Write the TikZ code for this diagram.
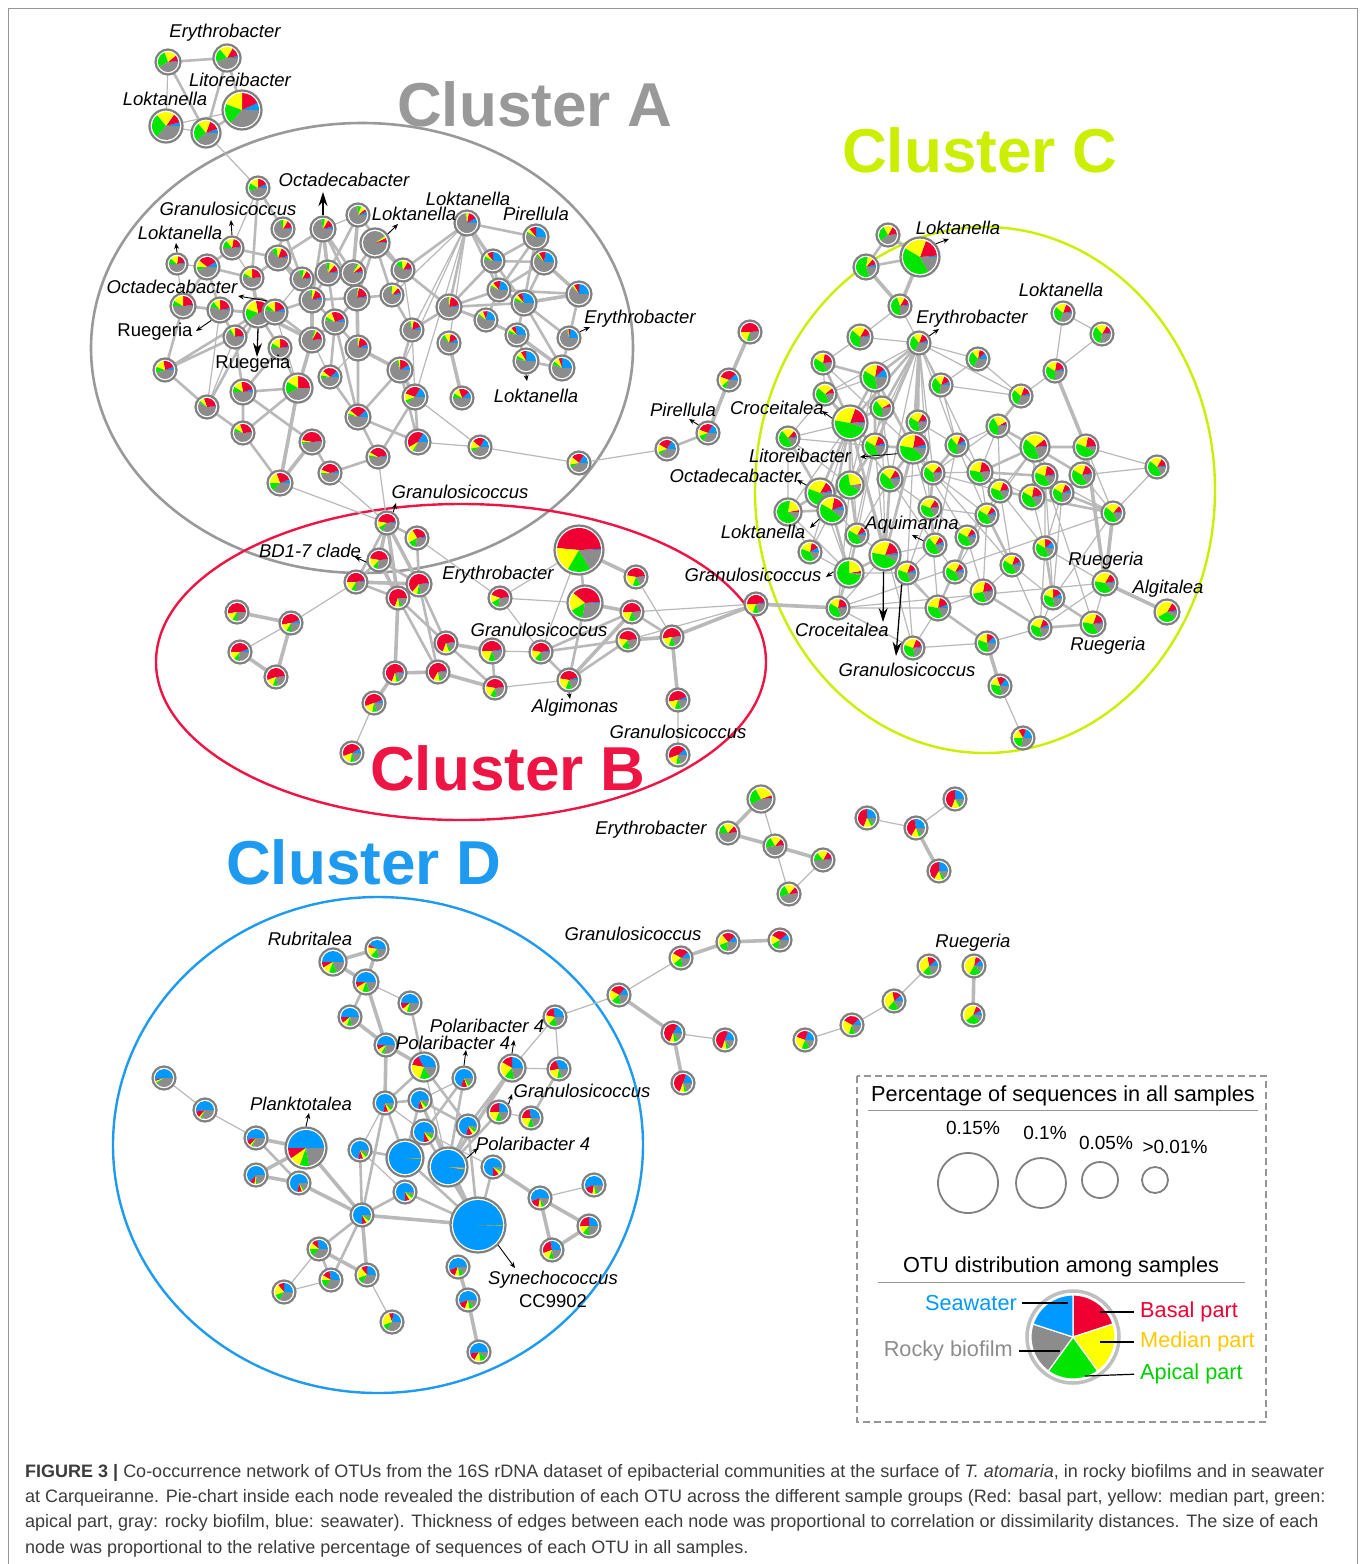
\documentclass[tikz,border=0pt]{standalone}
\usepackage{fontspec}
\setmainfont{Liberation Sans}
\usepackage{tikz}
\usetikzlibrary{arrows.meta,positioning}
\definecolor{cblue}{RGB}{0,153,255}
\definecolor{cred}{RGB}{240,0,50}
\definecolor{cyellow}{RGB}{255,255,0}
\definecolor{cgreen}{RGB}{0,230,0}
\definecolor{cgray}{RGB}{140,140,140}
\definecolor{ringgray}{RGB}{128,128,128}
\definecolor{edgegray}{RGB}{185,185,185}
\definecolor{framegray}{RGB}{150,150,150}
\definecolor{clA}{RGB}{153,153,153}
\definecolor{clB}{RGB}{238,20,68}
\definecolor{clC}{RGB}{204,238,0}
\definecolor{clD}{RGB}{30,155,240}
\definecolor{capgray}{RGB}{60,60,60}
\definecolor{medtext}{RGB}{255,200,0}
\tikzstyle{oturing} = [circle, draw=ringgray, line width=2.2pt, inner sep=0pt]
\tikzstyle{link} = [draw=edgegray, line width=1.2pt]
\tikzstyle{linkm} = [draw=edgegray, line width=2.6pt]
\tikzstyle{linkt} = [draw=edgegray, line width=3.6pt]
\tikzstyle{taxon} = [font=\fontsize{18.5}{20}\selectfont\itshape, inner sep=0pt]
\tikzstyle{taxonup} = [font=\fontsize{18.5}{20}\selectfont, inner sep=0pt]
\tikzstyle{pointer} = [-{Stealth[length=6pt,width=5pt]}, line width=0.9pt]
\tikzstyle{bigpointer} = [-{Stealth[length=14pt,width=9pt]}, line width=1.3pt]
\tikzstyle{clustertitle} = [font=\fontsize{62}{62}\selectfont\bfseries, inner sep=0pt]
\tikzstyle{legtext} = [font=\fontsize{21.7}{24}\selectfont, inner sep=0pt]
\tikzstyle{sizecirc} = [circle, draw=ringgray, line width=1.8pt, inner sep=0pt]
\tikzstyle{captext} = [anchor=west, inner sep=0pt, text=capgray, font=\fontsize{18}{20}\selectfont]
% pie node: name, radius, end of blue, red, yellow, green (gray to 360)
\newcommand{\otu}[6]{%
  \fill[white] (#1) circle[radius=#2+3];
  \fill[cblue] (#1) -- +(0:#2) arc[start angle=0, end angle=-#3, radius=#2] -- cycle;
  \fill[cred] (#1) -- +(-#3:#2) arc[start angle=-#3, end angle=-#4, radius=#2] -- cycle;
  \fill[cyellow] (#1) -- +(-#4:#2) arc[start angle=-#4, end angle=-#5, radius=#2] -- cycle;
  \fill[cgreen] (#1) -- +(-#5:#2) arc[start angle=-#5, end angle=-#6, radius=#2] -- cycle;
  \fill[cgray] (#1) -- +(-#6:#2) arc[start angle=-#6, end angle=-360, radius=#2] -- cycle;
  \node[oturing, minimum size=2*#2+5] (#1) at (#1) {};}

\begin{document}
\begin{tikzpicture}[x=1pt,y=-1pt]
\useasboundingbox (0,0) rectangle (1360,1564);
\draw[framegray, line width=1pt] (8,1564) -- (8,8) -- (1357,8) -- (1357,1564);
% clusters
\draw[clA, line width=2.6pt] (362,348) ellipse [x radius=271, y radius=225];
\draw[clB, line width=2.4pt] (461,662) ellipse [x radius=305, y radius=158];
\draw[clC, line width=2.4pt] (985,490) ellipse [x radius=230, y radius=263];
\draw[clD, line width=2.4pt] (378,1145) ellipse [x radius=265, y radius=248];
% top group
\coordinate (t1) at (168,62);
\coordinate (t2) at (227,58);
\coordinate (t3) at (166,126);
\coordinate (t4) at (206,133);
\coordinate (t5) at (242,110);
% cluster A
\coordinate (a1) at (258,188);
\coordinate (a2) at (283,229);
\coordinate (a3) at (323,229);
\coordinate (a4) at (358,215);
\coordinate (a5) at (375,243);
\coordinate (a6) at (467,223);
\coordinate (a7) at (232,248);
\coordinate (a8) at (177,264);
\coordinate (a9) at (207,267);
\coordinate (a10) at (278,258);
\coordinate (a11) at (252,278);
\coordinate (a12) at (302,279);
\coordinate (a13) at (328,273);
\coordinate (a14) at (353,273);
\coordinate (a15) at (403,270);
\coordinate (a16) at (312,300);
\coordinate (a17) at (357,298);
\coordinate (a18) at (392,295);
\coordinate (a19) at (183,306);
\coordinate (a20) at (220,310);
\coordinate (a21) at (258,313);
\coordinate (a22) at (275,312);
\coordinate (a23) at (235,337);
\coordinate (a24) at (280,348);
\coordinate (a25) at (312,340);
\coordinate (a26) at (335,322);
\coordinate (a27) at (358,348);
\coordinate (a28) at (412,330);
\coordinate (a29) at (449,307);
\coordinate (a30) at (449,343);
\coordinate (a31) at (165,370);
\coordinate (a32) at (243,392);
\coordinate (a33) at (298,388);
\coordinate (a34) at (330,377);
\coordinate (a35) at (400,370);
\coordinate (a36) at (207,407);
\coordinate (a37) at (243,433);
\coordinate (a38) at (312,442);
\coordinate (a39) at (358,417);
\coordinate (a40) at (415,397);
\coordinate (a41) at (418,442);
\coordinate (a42) at (462,398);
\coordinate (a43) at (280,483);
\coordinate (a44) at (330,473);
\coordinate (a45) at (378,457);
\coordinate (a46) at (480,447);
\coordinate (p1) at (536,237);
\coordinate (p2) at (493,261);
\coordinate (p3) at (544,262);
\coordinate (p4) at (499,290);
\coordinate (p5) at (524,303);
\coordinate (p6) at (579,294);
\coordinate (p7) at (486,320);
\coordinate (p8) at (517,335);
\coordinate (p9) at (569,338);
\coordinate (p10) at (526,361);
\coordinate (p11) at (562,368);
\coordinate (m1) at (579,463);
\coordinate (m2) at (667,449);
\coordinate (m3) at (708,433);
\coordinate (m4) at (729,380);
\coordinate (m5) at (750,332);
% cluster B
\coordinate (b1) at (387,523);
\coordinate (b2) at (417,538);
\coordinate (b3) at (379,560);
\coordinate (b4) at (356,582);
\coordinate (b5) at (419,584);
\coordinate (b6) at (398,598);
\coordinate (b7) at (237,612);
\coordinate (b8) at (291,623);
\coordinate (b9) at (240,652);
\coordinate (b10) at (276,677);
\coordinate (b11) at (446,643);
\coordinate (b12) at (492,651);
\coordinate (b13) at (438,672);
\coordinate (b14) at (395,673);
\coordinate (b15) at (374,703);
\coordinate (b16) at (352,753);
\coordinate (b17) at (495,688);
\coordinate (b18) at (500,598);
\coordinate (b19) at (579,550);
\coordinate (b20) at (585,603);
\coordinate (b21) at (636,577);
\coordinate (b22) at (632,612);
\coordinate (b23) at (628,640);
\coordinate (b24) at (672,637);
\coordinate (b25) at (541,652);
\coordinate (b26) at (569,680);
\coordinate (b27) at (756,604);
\coordinate (b28) at (678,700);
\coordinate (b29) at (678,755);
% cluster C
\coordinate (c1) at (888,235);
\coordinate (c2) at (920,257);
\coordinate (c3) at (866,267);
\coordinate (c4) at (900,306);
\coordinate (c5) at (860,337);
\coordinate (c6) at (919,343);
\coordinate (c7) at (823,363);
\coordinate (c8) at (875,377);
\coordinate (c9) at (978,359);
\coordinate (c10) at (941,385);
\coordinate (c11) at (825,394);
\coordinate (c12) at (882,408);
\coordinate (c13) at (850,423);
\coordinate (c14) at (788,438);
\coordinate (c15) at (918,422);
\coordinate (c16) at (1021,396);
\coordinate (c17) at (1055,371);
\coordinate (c18) at (1063,313);
\coordinate (c19) at (1102,334);
\coordinate (c20) at (875,446);
\coordinate (c21) at (913,448);
\coordinate (c22) at (957,445);
\coordinate (c23) at (998,426);
\coordinate (c24) at (1035,447);
\coordinate (c25) at (1086,447);
\coordinate (c26) at (820,493);
\coordinate (c27) at (850,485);
\coordinate (c28) at (890,479);
\coordinate (c29) at (933,473);
\coordinate (c30) at (980,472);
\coordinate (c31) at (1045,476);
\coordinate (c32) at (1082,475);
\coordinate (c33) at (1000,491);
\coordinate (c34) at (1032,497);
\coordinate (c35) at (1062,493);
\coordinate (c36) at (1157,467);
\coordinate (c37) at (788,512);
\coordinate (c38) at (832,510);
\coordinate (c39) at (930,508);
\coordinate (c40) at (987,515);
\coordinate (c41) at (1113,513);
\coordinate (c42) at (857,535);
\coordinate (c43) at (967,537);
\coordinate (c44) at (935,545);
\coordinate (c45) at (885,555);
\coordinate (c46) at (810,552);
\coordinate (c47) at (849,573);
\coordinate (c48) at (907,573);
\coordinate (c49) at (955,572);
\coordinate (c50) at (1045,548);
\coordinate (c51) at (1012,565);
\coordinate (c52) at (983,592);
\coordinate (c53) at (1053,598);
\coordinate (c54) at (1105,583);
\coordinate (c55) at (1167,612);
\coordinate (c56) at (838,608);
\coordinate (c57) at (938,608);
\coordinate (c58) at (1040,628);
\coordinate (c59) at (1093,624);
\coordinate (c60) at (913,648);
\coordinate (c61) at (987,643);
\coordinate (c62) at (1000,686);
\coordinate (c63) at (1023,738);
% outside groups
\coordinate (e1) at (761,799);
\coordinate (e2) at (728,833);
\coordinate (e3) at (775,846);
\coordinate (e4) at (823,860);
\coordinate (e5) at (789,894);
\coordinate (f1) at (867,818);
\coordinate (f2) at (916,828);
\coordinate (f3) at (955,799);
\coordinate (f4) at (939,871);
\coordinate (g1) at (728,942);
\coordinate (g2) at (780,940);
\coordinate (g3) at (681,958);
\coordinate (g4) at (619,995);
\coordinate (g5) at (673,1033);
\coordinate (g6) at (725,1040);
\coordinate (g7) at (683,1083);
\coordinate (h1) at (805,1040);
\coordinate (h2) at (852,1025);
\coordinate (h3) at (894,1001);
\coordinate (h4) at (929,966);
\coordinate (h5) at (974,966);
\coordinate (h6) at (973,1015);
% cluster D
\coordinate (d1) at (333,962);
\coordinate (d2) at (377,949);
\coordinate (d3) at (366,982);
\coordinate (d4) at (410,1003);
\coordinate (d5) at (350,1017);
\coordinate (d6) at (386,1045);
\coordinate (d7) at (424,1067);
\coordinate (d8) at (464,1078);
\coordinate (d9) at (512,1068);
\coordinate (d10) at (555,1017);
\coordinate (d11) at (559,1069);
\coordinate (d13) at (499,1112);
\coordinate (d14) at (531,1118);
\coordinate (d15) at (385,1103);
\coordinate (d16) at (420,1100);
\coordinate (d17) at (468,1126);
\coordinate (d18) at (424,1132);
\coordinate (d19) at (360,1150);
\coordinate (d20) at (405,1158);
\coordinate (d21) at (448,1167);
\coordinate (d22) at (493,1167);
\coordinate (d23) at (164,1078);
\coordinate (d24) at (205,1110);
\coordinate (d25) at (256,1138);
\coordinate (d26) at (306,1148);
\coordinate (d27) at (256,1175);
\coordinate (d28) at (299,1183);
\coordinate (d29) at (405,1192);
\coordinate (d30) at (362,1215);
\coordinate (d31) at (478,1225);
\coordinate (d32) at (540,1198);
\coordinate (d33) at (594,1185);
\coordinate (d34) at (589,1226);
\coordinate (d35) at (552,1250);
\coordinate (d36) at (319,1249);
\coordinate (d37) at (331,1280);
\coordinate (d38) at (367,1275);
\coordinate (d39) at (284,1292);
\coordinate (d40) at (392,1322);
\coordinate (d41) at (458,1267);
\coordinate (d42) at (468,1300);
\coordinate (d43) at (479,1352);
% edges
\draw[link] (t1)--(t3) (t3)--(t4) (t3)--(t5) (t4)--(a1) (a1)--(a7) (a7)--(a11) (a8)--(a9) (a8)--(a19)
  (a3)--(a4) (a6)--(a28) (a6)--(a30) (a6)--(a35) (a6)--(a40) (a28)--(a40) (a40)--(a46) (a41)--(a46)
  (a46)--(m1) (m1)--(m2) (a43)--(b1) (a44)--(b1) (a45)--(b1) (a23)--(a36) (a20)--(a36) (a29)--(p8)
  (a6)--(a18) (a15)--(a28) (a34)--(a27) (a25)--(a34) (a22)--(a33) (a12)--(a22);
\draw[linkm] (t1)--(t2) (t1)--(t4) (t2)--(t5) (t2)--(t4) (t4)--(t5) (m2)--(m3)
  (a1)--(a2) (a1)--(a11) (a2)--(a10) (a2)--(a12) (a3)--(a10) (a3)--(a14) (a3)--(a16) (a3)--(a17)
  (a4)--(a13) (a4)--(a15) (a5)--(a14) (a5)--(a15) (a5)--(a17) (a5)--(a18) (a6)--(a15) (a6)--(a29)
  (a6)--(p1) (a6)--(p4) (a7)--(a9) (a7)--(a10) (a9)--(a11) (a9)--(a19) (a9)--(a20) (a10)--(a11)
  (a10)--(a12) (a10)--(a16) (a12)--(a13) (a13)--(a16) (a13)--(a14) (a13)--(a26) (a15)--(a18)
  (a15)--(a29) (a16)--(a17) (a16)--(a22) (a16)--(a26) (a17)--(a18) (a17)--(a26) (a18)--(a28)
  (a19)--(a20) (a19)--(a21) (a19)--(a31) (a20)--(a21) (a20)--(a23) (a21)--(a22) (a21)--(a23)
  (a21)--(a24) (a21)--(a31) (a21)--(a36) (a22)--(a25) (a23)--(a31) (a23)--(a32) (a24)--(a32)
  (a24)--(a33) (a25)--(a26) (a26)--(a27) (a26)--(a34) (a26)--(a39) (a27)--(a39) (a28)--(a29)
  (a28)--(a35) (a29)--(p4) (a29)--(p2) (a29)--(p7) (a29)--(p5) (a31)--(a36) (a32)--(a37)
  (a32)--(a33) (a32)--(a38) (a33)--(a37) (a34)--(a39) (a35)--(a39) (a35)--(a41) (a36)--(a37)
  (a37)--(a43) (a38)--(a44) (a39)--(a41) (a39)--(a45) (a40)--(a41) (a40)--(a45) (a44)--(a45)
  (p1)--(p2) (p1)--(p4) (p1)--(p5) (p2)--(p3) (p2)--(p4) (p2)--(p5) (p3)--(p4) (p3)--(p5)
  (p4)--(p7) (p4)--(p6) (p5)--(p8) (p5)--(p9) (p5)--(p11) (p6)--(p9) (p6)--(p11) (p7)--(p8)
  (p8)--(p10) (p9)--(p11) (p10)--(p11);
\draw[linkt] (m3)--(m4) (m4)--(m5) (a11)--(a21) (a21)--(a25) (a16)--(a25) (a25)--(a33) (a33)--(a43)
  (a38)--(a43) (a17)--(a27) (a27)--(a35) (a35)--(a40) (a14)--(a17) (a4)--(a14) (a3)--(a13)
  (a12)--(a16) (a30)--(a42) (a6)--(p2) (p1)--(p3) (p3)--(p6) (p5)--(p6) (p4)--(p5) (p8)--(p11);
% cluster B edges
\draw[link] (b2)--(b18) (b4)--(b8) (b8)--(b9) (b15)--(b16) (b17)--(b26) (b18)--(b20) (b18)--(b19)
  (b18)--(b25) (b19)--(b25) (b28)--(b29) (b21)--(b24) (b22)--(b27) (b23)--(b27) (b12)--(b25);
\draw[linkm] (b1)--(b2) (b1)--(b4) (b2)--(b5) (b3)--(b4) (b3)--(b5) (b4)--(b6) (b5)--(b6)
  (b5)--(b11) (b5)--(b13) (b6)--(b11) (b6)--(b13) (b12)--(b17) (b11)--(b17) (b22)--(b24)
  (b26)--(b23) (b25)--(b22) (b25)--(b23) (b20)--(b26) (b19)--(b20) (b26)--(b25);
\draw[linkt] (b1)--(b3) (b1)--(b5) (b1)--(b6) (b3)--(b6) (b4)--(b5) (b6)--(b14) (b7)--(b8)
  (b9)--(b10) (b8)--(b10) (b11)--(b12) (b13)--(b14) (b14)--(b15) (b13)--(b17) (b19)--(b21)
  (b20)--(b22) (b23)--(b24) (b24)--(b27) (b24)--(b28) (b26)--(b22) (b27)--(c56);
% cluster C edges
\draw[link] (c4)--(c5) (c4)--(c6) (c5)--(c6) (c5)--(c7) (c6)--(c9) (c6)--(c10) (c6)--(c11)
  (c6)--(c27) (c6)--(c28) (c6)--(c48) (c6)--(c16) (c9)--(c10) (c9)--(c16) (c10)--(c16) (c10)--(c22)
  (c15)--(c21) (c15)--(c22) (c16)--(c17) (c17)--(c18) (c17)--(c19) (c18)--(c19) (c11)--(c14)
  (c11)--(c20) (c14)--(c20) (c14)--(c37) (c22)--(c23) (c22)--(c30) (c23)--(c30) (c23)--(c33)
  (c24)--(c34) (c24)--(c33) (c25)--(c36) (c25)--(c41) (c32)--(c36) (c36)--(c41) (c28)--(c29)
  (c28)--(c42) (c28)--(c44) (c29)--(c30) (c29)--(c40) (c30)--(c40) (c30)--(c33) (c31)--(c50)
  (c33)--(c43) (c39)--(c40) (c39)--(c43) (c40)--(c43) (c40)--(c49) (c42)--(c45) (c44)--(c45)
  (c44)--(c48) (c44)--(c49) (c45)--(c48) (c45)--(c56) (c45)--(c57) (c46)--(c47) (c37)--(c46)
  (c38)--(c46) (c47)--(c56) (c47)--(c48) (c48)--(c57) (c48)--(c60) (c49)--(c52) (c49)--(c57)
  (c51)--(c52) (c51)--(c53) (c52)--(c57) (c53)--(c58) (c54)--(c58) (c54)--(c59) (c56)--(c57)
  (c56)--(c60) (c56)--(c54) (c56)--(c41) (c57)--(c60) (c58)--(c61) (c60)--(c61) (c62)--(c63)
  (c13)--(c60) (c24)--(c59) (c12)--(c56) (c27)--(c56) (c21)--(c39) (c20)--(c45) (c34)--(c50)
  (c50)--(c58) (c41)--(c53) (c35)--(c50) (c43)--(c52) (c8)--(c11) (c7)--(c11) (c22)--(c44)
  (c15)--(c45) (c31)--(c53) (c29)--(c51) (c39)--(c57) (c26)--(c47) (c21)--(c43)
  (c6)--(c29) (c6)--(c30) (c6)--(c39) (c6)--(c22) (c13)--(c14) (c13)--(c37) (c13)--(c46)
  (c13)--(c42) (c7)--(c21) (c11)--(c28) (c14)--(c27) (c20)--(c42) (c12)--(c45) (c23)--(c29)
  (c24)--(c40) (c30)--(c34) (c31)--(c41) (c33)--(c50) (c39)--(c48) (c43)--(c57) (c40)--(c52)
  (c51)--(c58) (c50)--(c54) (c35)--(c53) (c32)--(c41) (c24)--(c35) (c23)--(c31) (c29)--(c33)
  (c22)--(c40) (c8)--(c27) (c12)--(c28) (c26)--(c42) (c37)--(c47) (c28)--(c39) (c33)--(c51);
\draw[linkm] (c1)--(c3) (c2)--(c3) (c6)--(c8) (c6)--(c13) (c6)--(c12) (c6)--(c15) (c6)--(c20)
  (c6)--(c21) (c7)--(c8) (c7)--(c13) (c8)--(c13) (c8)--(c12) (c8)--(c21) (c11)--(c13) (c12)--(c13)
  (c13)--(c20) (c13)--(c27) (c13)--(c26) (c13)--(c38) (c13)--(c45) (c20)--(c21) (c20)--(c27)
  (c21)--(c28) (c21)--(c45) (c26)--(c37) (c26)--(c38) (c27)--(c38) (c37)--(c38) (c38)--(c47)
  (c45)--(c47) (c24)--(c31) (c24)--(c32) (c23)--(c24) (c30)--(c31) (c31)--(c34) (c32)--(c35)
  (c33)--(c34) (c34)--(c41) (c35)--(c41) (c28)--(c45) (c42)--(c47) (c16)--(c23) (c22)--(c29)
  (c29)--(c39) (c39)--(c44) (c43)--(c49) (c50)--(c53) (c52)--(c58) (c53)--(c59) (c58)--(c59)
  (c57)--(c61) (c40)--(c51) (c24)--(c25) (c14)--(c26) (c27)--(c42) (c8)--(c20) (c21)--(c29)
  (c25)--(c32) (c31)--(c35) (c24)--(c30);
\draw[linkt] (c1)--(c2) (c2)--(c4) (c3)--(c4) (c17)--(c25) (c25)--(c54) (c41)--(c54) (c54)--(c55)
  (c61)--(c62);
% outside edges
\draw[link] (e1)--(e3) (e3)--(e5) (e4)--(e5) (f1)--(f2) (f2)--(f3) (g4)--(g3) (g5)--(g6)
  (h1)--(h2) (h2)--(h3) (h3)--(h4) (d10)--(g4);
\draw[linkt] (e1)--(e2) (e2)--(e3) (e3)--(e4) (f2)--(f4) (g1)--(g2) (g3)--(g1) (g4)--(g5)
  (g5)--(g7) (h5)--(h6);
% cluster D edges
\draw[link] (d3)--(d4) (d23)--(d24) (d24)--(d25) (d36)--(d39) (d37)--(d39) (d38)--(d40)
  (d32)--(d33) (d9)--(d10) (d9)--(d11) (d10)--(d11) (d7)--(d21) (d15)--(d18) (d19)--(d29)
  (d15)--(d19) (d18)--(d22) (d8)--(d16) (d13)--(d14);
\draw[linkm] (d3)--(d5) (d7)--(d15) (d7)--(d17) (d8)--(d20) (d8)--(d21) (d9)--(d17) (d13)--(d21)
  (d14)--(d11) (d15)--(d30) (d15)--(d20) (d16)--(d20) (d16)--(d21) (d17)--(d21) (d17)--(d31)
  (d18)--(d31) (d18)--(d20) (d19)--(d20) (d20)--(d31) (d21)--(d31) (d22)--(d31) (d29)--(d31)
  (d29)--(d30) (d19)--(d30) (d30)--(d36) (d30)--(d37) (d36)--(d37) (d4)--(d7) (d16)--(d31)
  (d15)--(d16) (d16)--(d17) (d25)--(d28);
\draw[linkt] (d1)--(d2) (d1)--(d3) (d2)--(d3) (d3)--(d6) (d5)--(d6) (d6)--(d7) (d6)--(d15)
  (d25)--(d26) (d26)--(d27) (d27)--(d28) (d26)--(d30) (d28)--(d30) (d30)--(d31) (d30)--(d38)
  (d36)--(d38) (d22)--(d32) (d32)--(d34) (d32)--(d35) (d34)--(d35) (d41)--(d42) (d42)--(d43)
  (d9)--(d21);
% pies, top group
\otu{t1}{10}{5}{40}{110}{210}
\otu{t2}{11}{10}{60}{130}{200}
\otu{t3}{14}{15}{55}{130}{230}
\otu{t4}{12}{20}{70}{130}{220}
\otu{t5}{17}{25}{90}{160}{230}
% pies, cluster A
\otu{a1}{9}{25}{90}{150}{200}
\otu{a2}{9}{10}{60}{90}{110}
\otu{a3}{10}{15}{60}{80}{100}
\otu{a4}{9}{20}{40}{70}{95}
\otu{a5}{12}{5}{25}{35}{40}
\otu{a6}{10}{30}{80}{95}{100}
\otu{a7}{9}{10}{80}{130}{180}
\otu{a8}{8}{10}{80}{140}{180}
\otu{a9}{10}{30}{140}{180}{200}
\otu{a10}{10}{10}{70}{100}{130}
\otu{a11}{9}{5}{90}{150}{170}
\otu{a12}{9}{10}{60}{80}{110}
\otu{a13}{10}{10}{50}{80}{100}
\otu{a14}{10}{10}{40}{60}{70}
\otu{a15}{9}{10}{60}{100}{140}
\otu{a16}{10}{15}{70}{90}{100}
\otu{a17}{10}{10}{80}{85}{90}
\otu{a18}{9}{15}{50}{90}{100}
\otu{a19}{10}{5}{90}{150}{180}
\otu{a20}{10}{10}{90}{130}{160}
\otu{a21}{12}{10}{100}{160}{220}
\otu{a22}{10}{20}{90}{140}{170}
\otu{a23}{9}{10}{90}{120}{140}
\otu{a24}{9}{10}{90}{150}{180}
\otu{a25}{10}{5}{60}{70}{80}
\otu{a26}{10}{20}{110}{150}{170}
\otu{a27}{10}{20}{80}{90}{95}
\otu{a28}{9}{20}{80}{100}{110}
\otu{a29}{10}{10}{80}{90}{95}
\otu{a30}{9}{25}{80}{120}{140}
\otu{a31}{9}{20}{100}{160}{200}
\otu{a32}{10}{15}{100}{150}{180}
\otu{a33}{12}{0}{90}{150}{210}
\otu{a34}{9}{40}{140}{170}{190}
\otu{a35}{10}{30}{90}{100}{110}
\otu{a36}{9}{5}{110}{140}{150}
\otu{a37}{9}{5}{110}{150}{170}
\otu{a38}{10}{5}{170}{180}{190}
\otu{a39}{10}{40}{140}{160}{170}
\otu{a40}{10}{60}{160}{200}{220}
\otu{a41}{10}{60}{210}{240}{250}
\otu{a42}{9}{40}{110}{150}{180}
\otu{a43}{10}{20}{110}{180}{230}
\otu{a44}{9}{15}{160}{180}{190}
\otu{a45}{9}{10}{150}{170}{180}
\otu{a46}{9}{60}{140}{190}{210}
\otu{p1}{10}{90}{130}{150}{160}
\otu{p2}{9}{90}{130}{150}{170}
\otu{p3}{10}{80}{120}{130}{140}
\otu{p4}{9}{80}{130}{150}{160}
\otu{p5}{10}{100}{130}{150}{170}
\otu{p6}{10}{90}{120}{130}{135}
\otu{p7}{9}{80}{110}{140}{150}
\otu{p8}{9}{100}{130}{150}{170}
\otu{p9}{9}{80}{95}{100}{105}
\otu{p10}{10}{90}{120}{150}{170}
\otu{p11}{10}{90}{110}{140}{160}
\otu{m1}{9}{60}{140}{190}{210}
\otu{m2}{9}{60}{150}{200}{220}
\otu{m3}{9}{60}{160}{200}{240}
\otu{m4}{9}{40}{160}{220}{250}
\otu{m5}{9}{5}{180}{250}{270}
% pies, cluster B
\otu{b1}{9}{10}{170}{210}{240}
\otu{b2}{9}{10}{120}{210}{260}
\otu{b3}{9}{5}{170}{230}{260}
\otu{b4}{9}{10}{180}{240}{270}
\otu{b5}{10}{5}{230}{260}{280}
\otu{b6}{9}{0}{250}{280}{300}
\otu{b7}{9}{0}{190}{240}{270}
\otu{b8}{9}{20}{190}{240}{270}
\otu{b9}{9}{20}{180}{230}{260}
\otu{b10}{9}{5}{200}{250}{280}
\otu{b11}{9}{5}{250}{290}{310}
\otu{b12}{10}{10}{180}{250}{290}
\otu{b13}{9}{10}{240}{280}{300}
\otu{b14}{9}{10}{250}{280}{300}
\otu{b15}{9}{20}{200}{260}{290}
\otu{b16}{9}{30}{200}{260}{290}
\otu{b17}{9}{5}{170}{240}{280}
\otu{b18}{9}{5}{160}{210}{260}
\otu{b19}{22}{3}{175}{240}{300}
\otu{b20}{15}{5}{140}{210}{260}
\otu{b21}{9}{5}{170}{250}{300}
\otu{b22}{9}{5}{180}{250}{300}
\otu{b23}{9}{5}{170}{230}{280}
\otu{b24}{9}{5}{190}{250}{290}
\otu{b25}{9}{10}{170}{230}{270}
\otu{b26}{9}{15}{170}{250}{290}
\otu{b27}{9}{10}{180}{250}{290}
\otu{b28}{9}{20}{190}{250}{290}
\otu{b29}{9}{40}{200}{260}{290}
% pies, cluster C
\otu{c1}{9}{5}{60}{120}{220}
\otu{c2}{17}{5}{70}{150}{300}
\otu{c3}{10}{15}{50}{80}{290}
\otu{c4}{9}{10}{60}{110}{270}
\otu{c5}{10}{10}{60}{140}{270}
\otu{c6}{9}{15}{70}{130}{240}
\otu{c7}{9}{5}{80}{150}{300}
\otu{c8}{12}{40}{80}{150}{280}
\otu{c9}{9}{40}{80}{130}{240}
\otu{c10}{9}{20}{70}{130}{260}
\otu{c11}{9}{5}{40}{140}{300}
\otu{c12}{9}{5}{30}{130}{270}
\otu{c13}{15}{5}{70}{170}{340}
\otu{c14}{9}{10}{50}{130}{300}
\otu{c15}{9}{10}{60}{150}{280}
\otu{c16}{9}{15}{70}{140}{250}
\otu{c17}{9}{15}{80}{150}{270}
\otu{c18}{9}{10}{70}{140}{250}
\otu{c19}{9}{10}{60}{130}{260}
\otu{c20}{10}{15}{70}{150}{290}
\otu{c21}{13}{15}{80}{170}{320}
\otu{c22}{9}{30}{70}{130}{270}
\otu{c23}{9}{10}{30}{120}{270}
\otu{c24}{12}{5}{40}{140}{290}
\otu{c25}{10}{5}{80}{160}{330}
\otu{c26}{12}{10}{60}{160}{320}
\otu{c27}{11}{0}{5}{100}{330}
\otu{c28}{10}{15}{60}{140}{300}
\otu{c29}{9}{10}{50}{140}{280}
\otu{c30}{10}{5}{80}{170}{300}
\otu{c31}{10}{10}{80}{160}{300}
\otu{c32}{10}{10}{70}{150}{300}
\otu{c33}{9}{10}{70}{160}{300}
\otu{c34}{10}{10}{80}{150}{300}
\otu{c35}{9}{20}{70}{150}{270}
\otu{c36}{9}{10}{60}{140}{300}
\otu{c37}{11}{0}{10}{80}{320}
\otu{c38}{12}{20}{80}{150}{320}
\otu{c39}{9}{10}{60}{160}{300}
\otu{c40}{9}{20}{60}{150}{300}
\otu{c41}{9}{10}{50}{140}{300}
\otu{c42}{9}{20}{60}{150}{300}
\otu{c43}{9}{20}{60}{150}{300}
\otu{c44}{9}{20}{60}{130}{300}
\otu{c45}{13}{10}{70}{170}{330}
\otu{c46}{9}{30}{80}{160}{300}
\otu{c47}{12}{0}{10}{90}{350}
\otu{c48}{9}{20}{70}{160}{290}
\otu{c49}{9}{20}{60}{150}{300}
\otu{c50}{9}{40}{90}{150}{300}
\otu{c51}{9}{20}{70}{150}{300}
\otu{c52}{10}{10}{80}{190}{290}
\otu{c53}{9}{30}{90}{160}{280}
\otu{c54}{10}{10}{60}{170}{310}
\otu{c55}{10}{10}{60}{210}{330}
\otu{c56}{9}{10}{80}{150}{290}
\otu{c57}{10}{20}{80}{170}{300}
\otu{c58}{9}{20}{70}{160}{280}
\otu{c59}{10}{10}{70}{170}{300}
\otu{c60}{9}{10}{70}{160}{280}
\otu{c61}{9}{40}{90}{160}{280}
\otu{c62}{9}{50}{110}{170}{280}
\otu{c63}{9}{70}{120}{180}{260}
% pies, outside groups
\otu{e1}{11}{5}{20}{120}{210}
\otu{e2}{9}{5}{50}{120}{180}
\otu{e3}{9}{5}{50}{120}{190}
\otu{e4}{9}{10}{60}{130}{180}
\otu{e5}{9}{5}{50}{120}{200}
\otu{f1}{9}{90}{250}{300}{320}
\otu{f2}{9}{100}{240}{290}{310}
\otu{f3}{9}{90}{250}{300}{320}
\otu{f4}{9}{90}{240}{290}{310}
\otu{g1}{9}{40}{130}{200}{260}
\otu{g2}{9}{40}{150}{210}{260}
\otu{g3}{9}{40}{150}{220}{280}
\otu{g4}{9}{50}{150}{220}{280}
\otu{g5}{9}{60}{250}{280}{310}
\otu{g6}{9}{70}{250}{280}{300}
\otu{g7}{9}{70}{250}{280}{300}
\otu{h1}{9}{70}{160}{250}{300}
\otu{h2}{9}{40}{150}{250}{290}
\otu{h3}{9}{40}{100}{230}{300}
\otu{h4}{9}{40}{100}{230}{290}
\otu{h5}{9}{40}{80}{240}{320}
\otu{h6}{9}{30}{70}{220}{320}
% pies, cluster D
\otu{d1}{11}{180}{210}{250}{290}
\otu{d2}{9}{150}{170}{230}{280}
\otu{d3}{10}{180}{210}{250}{290}
\otu{d4}{9}{180}{220}{250}{270}
\otu{d5}{9}{180}{220}{250}{280}
\otu{d6}{9}{180}{210}{240}{260}
\otu{d7}{12}{120}{170}{250}{300}
\otu{d8}{9}{250}{290}{300}{320}
\otu{d9}{11}{90}{150}{230}{280}
\otu{d10}{9}{100}{170}{230}{280}
\otu{d11}{9}{110}{190}{260}{290}
\otu{d13}{9}{90}{180}{250}{290}
\otu{d14}{9}{100}{180}{250}{290}
\otu{d15}{9}{260}{290}{310}{330}
\otu{d16}{9}{260}{290}{310}{330}
\otu{d17}{9}{260}{300}{320}{340}
\otu{d18}{10}{270}{300}{320}{340}
\otu{d19}{9}{260}{290}{310}{330}
\otu{d20}{16}{357}{358}{359}{360}
\otu{d21}{17}{350}{352}{354}{356}
\otu{d22}{9}{270}{310}{330}{340}
\otu{d23}{9}{190}{200}{210}{220}
\otu{d24}{9}{190}{230}{240}{250}
\otu{d25}{9}{190}{230}{240}{250}
\otu{d26}{18}{180}{215}{250}{280}
\otu{d27}{9}{230}{260}{270}{280}
\otu{d28}{9}{260}{290}{300}{310}
\otu{d29}{9}{270}{300}{320}{340}
\otu{d30}{9}{270}{300}{320}{340}
\otu{d31}{25}{358}{358.5}{359}{359.5}
\otu{d32}{9}{200}{260}{280}{300}
\otu{d33}{9}{200}{260}{280}{300}
\otu{d34}{9}{90}{180}{230}{270}
\otu{d35}{9}{100}{200}{250}{280}
\otu{d36}{9}{100}{140}{180}{230}
\otu{d37}{9}{100}{150}{180}{230}
\otu{d38}{9}{90}{130}{200}{240}
\otu{d39}{9}{90}{130}{200}{240}
\otu{d40}{9}{80}{110}{200}{240}
\otu{d41}{9}{200}{250}{280}{310}
\otu{d42}{9}{200}{250}{280}{310}
\otu{d43}{9}{190}{240}{280}{320}
% taxon labels
\node[taxon] (L01) at (225,33) {Erythrobacter};
\node[taxon] (L02) at (240,80) {Litoreibacter};
\node[taxon] (L03) at (165,99) {Loktanella};
\node[taxon] (L04) at (344,180) {Octadecabacter};
\node[taxon] (L05) at (228,209) {Granulosicoccus};
\node[taxon] (L06) at (180,233) {Loktanella};
\node[taxon] (L07) at (414,214) {Loktanella};
\node[taxon] (L08) at (468,199) {Loktanella};
\node[taxon] (L09) at (536,214) {Pirellula};
\node[taxon] (L10) at (172,287) {Octadecabacter};
\node[taxonup] (L11) at (155,332) {Ruegeria};
\node[taxonup] (L12) at (253,364) {Ruegeria};
\node[taxon] (L13) at (640,319) {Erythrobacter};
\node[taxon] (L14) at (536,396) {Loktanella};
\node[taxon] (L15) at (683,410) {Pirellula};
\node[taxon] (L16) at (777,408) {Croceitalea};
\node[taxon] (L17) at (460,492) {Granulosicoccus};
\node[taxon] (L18) at (310,551) {BD1-7 clade};
\node[taxon] (L19) at (498,575) {Erythrobacter};
\node[taxon] (L20) at (539,630) {Granulosicoccus};
\node[taxon] (L21) at (575,708) {Algimonas};
\node[taxon] (L22) at (678,732) {Granulosicoccus};
\node[taxon] (L23) at (753,575) {Granulosicoccus};
\node[taxon] (L24) at (958,228) {Loktanella};
\node[taxon] (L25) at (1061,290) {Loktanella};
\node[taxon] (L26) at (972,319) {Erythrobacter};
\node[taxon] (L27) at (800,456) {Litoreibacter};
\node[taxon] (L28) at (735,476) {Octadecabacter};
\node[taxon] (L29) at (763,532) {Loktanella};
\node[taxon] (L30) at (912,525) {Aquimarina};
\node[taxon] (L31) at (842,630) {Croceitalea};
\node[taxon] (L32) at (907,670) {Granulosicoccus};
\node[taxon] (L33) at (1106,561) {Ruegeria};
\node[taxon] (L34) at (1168,589) {Algitalea};
\node[taxon] (L35) at (1108,646) {Ruegeria};
\node[taxon] (L36) at (651,830) {Erythrobacter};
\node[taxon] (L37) at (633,934) {Granulosicoccus};
\node[taxon] (L38) at (973,943) {Ruegeria};
\node[taxon] (L39) at (310,939) {Rubritalea};
\node[taxon] (L40) at (487,1026) {Polaribacter 4};
\node[taxon] (L41) at (453,1043) {Polaribacter 4};
\node[taxon] (L42) at (582,1091) {Granulosicoccus};
\node[taxon] (L43) at (301,1104) {Planktotalea};
\node[taxon] (L44) at (533,1144) {Polaribacter 4};
\node[taxon] (L45) at (553,1280) {Synechococcus};
\node[taxonup, below=6pt of L45] (L46) {CC9902};
% arrow tips
\coordinate (x04) at (323,192);
\coordinate (x05) at (231,220);
\coordinate (x06) at (176,243);
\coordinate (x07) at (398,224);
\coordinate (x10) at (238,296);
\coordinate (x11) at (196,331);
\coordinate (x12) at (257,357);
\coordinate (x13) at (590,327);
\coordinate (x14) at (527,381);
\coordinate (x15) at (689,419);
\coordinate (x17) at (396,503);
\coordinate (x18) at (355,557);
\coordinate (x21) at (570,699);
\coordinate (x24) at (949,239);
\coordinate (x26) at (939,329);
\coordinate (x16) at (822,411);
\coordinate (x27) at (860,457);
\coordinate (x28) at (797,480);
\coordinate (x29) at (810,528);
\coordinate (x30) at (912,535);
\coordinate (x23) at (826,577);
\coordinate (x31) at (883,622);
\coordinate (x32) at (896,656);
\coordinate (x40) at (514,1040);
\coordinate (x41) at (466,1050);
\coordinate (x42) at (512,1094);
\coordinate (x43) at (309,1113);
\coordinate (x44) at (478,1148);
\coordinate (x45) at (515,1268);
\draw[bigpointer] (a3.north) -- (x04);
\draw[pointer] (a7.north) -- (x05);
\draw[pointer] (a8.north) -- (x06);
\draw[pointer] (a5.35) -- (x07);
\draw[pointer] (a22.125) -- (x10);
\draw[pointer] (a20.-130) -- (x11);
\draw[bigpointer] (a21.south) -- (x12);
\draw[pointer] (p9.30) -- (x13);
\draw[pointer] (p10.south) -- (x14);
\draw[pointer] (m3.140) -- (x15);
\draw[pointer] (b1.60) -- (x17);
\draw[pointer] (b3.190) -- (x18);
\draw[pointer] (b26.south) -- (x21);
\draw[pointer] (c2.40) -- (x24);
\draw[pointer] (c6.35) -- (x26);
\draw[pointer] (c13.165) -- (x16);
\draw[pointer] (c21.200) -- (x27);
\draw[pointer] (c26.150) -- (x28);
\draw[pointer] (c38.-145) -- (x29);
\draw[pointer] (c44.160) -- (x30);
\draw[pointer] (c47.175) -- (x23);
\draw[bigpointer] (c45.-95) -- (x31);
\draw[bigpointer] (c48.-115) -- (x32);
\draw[pointer] (d9.north) -- (x40);
\draw[pointer] (d8.north) -- (x41);
\draw[pointer] (d13.40) -- (x42);
\draw[pointer] (d26.north) -- (x43);
\draw[pointer] (d21.25) -- (x44);
\draw[pointer] (d31.-45) -- (x45);
% cluster titles
\node[clustertitle, text=clA] (TA) at (535,104) {Cluster A};
\node[clustertitle, text=clB] (TB) at (508,768) {Cluster B};
\node[clustertitle, text=clC] (TC) at (980,150) {Cluster C};
\node[clustertitle, text=clD] (TD) at (364,862) {Cluster D};
% legend
\draw[framegray, line width=1.2pt, dash pattern=on 7pt off 4pt] (857,1076) rectangle (1266,1422);
\node[legtext] (G1) at (1063,1096) {Percentage of sequences in all samples};
\draw[framegray, line width=1pt] (868,1110) -- (1258,1110);
\node[sizecirc, minimum size=60] (S1) at (968,1183) {};
\node[sizecirc, minimum size=50] (S2) at (1041,1183) {};
\node[sizecirc, minimum size=36] (S3) at (1100,1180) {};
\node[sizecirc, minimum size=26] (S4) at (1155,1180) {};
\node[legtext, font=\fontsize{19}{20}\selectfont] (P1) at (973,1128) {0.15\%};
\node[legtext, font=\fontsize{19}{20}\selectfont] (P2) at (1045,1133) {0.1\%};
\node[legtext, font=\fontsize{19}{20}\selectfont] (P3) at (1106,1143) {0.05\%};
\node[legtext, font=\fontsize{19}{20}\selectfont] (P4) at (1175,1147) {>0.01\%};
\node[legtext] (G2) at (1061,1267) {OTU distribution among samples};
\draw[framegray, line width=1pt] (878,1282) -- (1245,1282);
\coordinate (LP) at (1073,1337);
\filldraw[fill=cred, draw=white, line width=1.2pt] (LP) -- +(-90:42) arc[start angle=-90, end angle=-18, radius=42] -- cycle;
\filldraw[fill=cyellow, draw=white, line width=1.2pt] (LP) -- +(-18:42) arc[start angle=-18, end angle=54, radius=42] -- cycle;
\filldraw[fill=cgreen, draw=white, line width=1.2pt] (LP) -- +(54:42) arc[start angle=54, end angle=126, radius=42] -- cycle;
\filldraw[fill=cgray, draw=white, line width=1.2pt] (LP) -- +(126:42) arc[start angle=126, end angle=198, radius=42] -- cycle;
\filldraw[fill=cblue, draw=white, line width=1.2pt] (LP) -- +(198:42) arc[start angle=198, end angle=270, radius=42] -- cycle;
\node[circle, draw=black!25, line width=3.5pt, minimum size=92, inner sep=0pt] (LP) at (LP) {};
\node[legtext, text=cblue, anchor=east] (K1) at (1017,1303) {Seawater};
\node[legtext, text=cgray, anchor=east] (K2) at (1013,1351) {Rocky biofilm};
\node[legtext, text=cred, anchor=west] (K3) at (1140,1312) {Basal part};
\node[legtext, text=medtext, anchor=west] (K4) at (1140,1342) {Median part};
\node[legtext, text=cgreen!90!black, anchor=west] (K5) at (1140,1374) {Apical part};
\coordinate (k1) at (1068,1303);
\coordinate (k2) at (1060,1351);
\coordinate (k3) at (1100,1312);
\coordinate (k4) at (1100,1342);
\coordinate (k5) at (1085,1376);
\draw[line width=1.2pt, shorten <=5pt] (K1.east) -- (k1);
\draw[line width=1.2pt, shorten <=6pt] (K2.east) -- (k2);
\draw[line width=1.2pt, shorten <=6pt] (K3.west) -- (k3);
\draw[line width=1.2pt, shorten <=6pt] (K4.west) -- (k4);
\draw[line width=1.2pt, shorten <=6pt] (K5.west) -- (k5);
% caption
\node[captext] (CP1) at (25,1473) {\textbf{FIGURE 3 |} Co-occurrence network of OTUs from the 16S rDNA dataset of epibacterial communities at the surface of \textit{T. atomaria}, in rocky biofilms and in seawater};
\node[captext] (CP2) at (25,1498) {at Carqueiranne. Pie-chart inside each node revealed the distribution of each OTU across the different sample groups (Red: basal part, yellow: median part, green:};
\node[captext] (CP3) at (25,1523) {apical part, gray: rocky biofilm, blue: seawater). Thickness of edges between each node was proportional to correlation or dissimilarity distances. The size of each};
\node[captext] (CP4) at (25,1549) {node was proportional to the relative percentage of sequences of each OTU in all samples.};
\end{tikzpicture}
\end{document}
